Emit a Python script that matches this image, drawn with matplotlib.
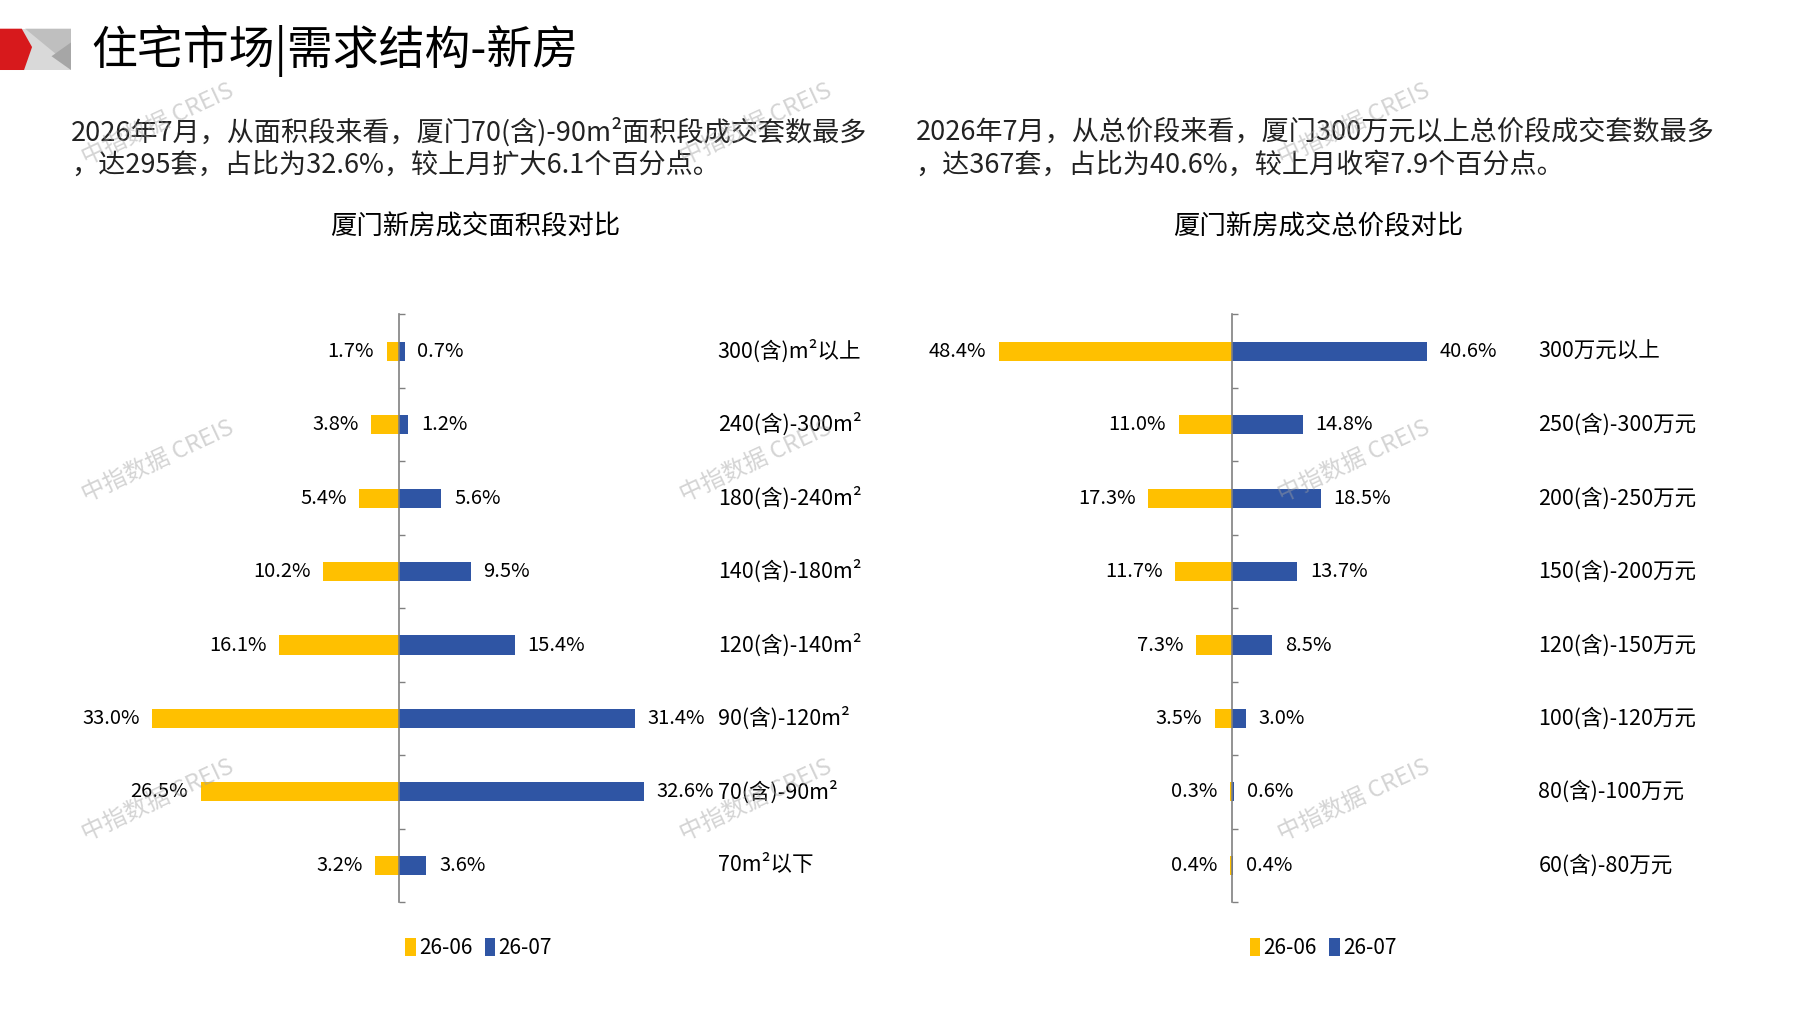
import matplotlib
matplotlib.use('Agg')
import matplotlib.pyplot as plt
from matplotlib.patches import Polygon

plt.rcParams['font.family'] = ['Noto Sans CJK SC', 'DejaVu Sans']

# data (share of transactions, %)
area_cats = ['300(含)m²以上', '240(含)-300m²', '180(含)-240m²', '140(含)-180m²',
             '120(含)-140m²', '90(含)-120m²', '70(含)-90m²', '70m²以下']
area_jun = [1.7, 3.8, 5.4, 10.2, 16.1, 33.0, 26.5, 3.2]
area_jul = [0.7, 1.2, 5.6, 9.5, 15.4, 31.4, 32.6, 3.6]

price_cats = ['300万元以上', '250(含)-300万元', '200(含)-250万元', '150(含)-200万元',
              '120(含)-150万元', '100(含)-120万元', '80(含)-100万元', '60(含)-80万元']
price_jun = [48.4, 11.0, 17.3, 11.7, 7.3, 3.5, 0.3, 0.4]
price_jul = [40.6, 14.8, 18.5, 13.7, 8.5, 3.0, 0.6, 0.4]

legend_labels = ['26-06', '26-07']

YELLOW = '#FFC000'
BLUE = '#2F55A4'
AXIS = '#808080'

# layout measured on a scaled view of the page
W, H = 1570, 880
def fx(x): return x / W
def fy(y): return 1 - y / H

fig = plt.figure(figsize=(17.97, 10.10), dpi=100)

# logo block
logo = [
    ([(0, 25), (62, 25), (62, 61), (0, 61)], '#d9d9d9'),
    ([(22, 25), (62, 25), (62, 38), (50, 48)], '#bfbfbf'),
    ([(62, 37), (45, 49), (62, 61)], '#a6a6a6'),
    ([(0, 25), (19, 25), (28, 41), (21, 61), (0, 61)], '#d7191c'),
]
for pts, c in logo:
    fig.patches.append(Polygon([(fx(x), fy(y)) for x, y in pts], closed=True,
                               transform=fig.transFigure, color=c, lw=0))

fig.text(fx(80), fy(44), '住宅市场|需求结构-新房', fontsize=33, va='center', ha='left')

fig.text(fx(62), fy(115), '2026年7月，从面积段来看，厦门70(含)-90m²面积段成交套数最多',
         fontsize=19.5, va='center', color='#222222')
fig.text(fx(62), fy(144), '，达295套，占比为32.6%，较上月扩大6.1个百分点。',
         fontsize=19.5, va='center', color='#222222')
fig.text(fx(800), fy(115), '2026年7月，从总价段来看，厦门300万元以上总价段成交套数最多',
         fontsize=19.5, va='center', color='#222222')
fig.text(fx(800), fy(144), '，达367套，占比为40.6%，较上月收窄7.9个百分点。',
         fontsize=19.5, va='center', color='#222222')

fig.text(fx(415), fy(198), '厦门新房成交面积段对比', fontsize=19, ha='center', va='center')
fig.text(fx(1152), fy(198), '厦门新房成交总价段对比', fontsize=19, ha='center', va='center')


def pyramid(ax, cats, june, july, lim, label_x, leg_x):
    n = len(cats)
    pos = list(range(n))
    ax.barh(pos, [-v for v in june], height=0.26, color=YELLOW, label=legend_labels[0])
    ax.barh(pos, july, height=0.26, color=BLUE, label=legend_labels[1])
    for i in pos:
        ax.annotate('{:.1f}%'.format(june[i]), (-june[i], i), xytext=(-9, 0),
                    textcoords='offset points', ha='right', va='center', fontsize=14.5)
        ax.annotate('{:.1f}%'.format(july[i]), (july[i], i), xytext=(9, 0),
                    textcoords='offset points', ha='left', va='center', fontsize=14.5)
        ax.text(label_x, i, cats[i], transform=ax.get_yaxis_transform(),
                ha='left', va='center', fontsize=15.5)
    ax.set_xlim(-lim, lim)
    ax.set_ylim(n - 0.5, -0.5)
    ax.set_yticks([i - 0.5 for i in range(n + 1)])
    ax.set_xticks([])
    ax.tick_params(axis='y', direction='in', length=4, width=1, color=AXIS, labelleft=False)
    for s in ['top', 'right', 'bottom']:
        ax.spines[s].set_visible(False)
    ax.spines['left'].set_position(('data', 0))
    ax.spines['left'].set_color(AXIS)
    ax.spines['left'].set_linewidth(1.2)
    ax.legend(loc='center', bbox_to_anchor=(fx(leg_x), fy(826)), bbox_transform=fig.transFigure,
              ncol=2, frameon=False, handlelength=0.5, handleheight=1.0, handletextpad=0.15,
              columnspacing=0.6, fontsize=15)


# left chart: zero line at x=349, 6.55 px per %
ax1 = fig.add_axes([fx(87), fy(786), 524 / W, 512 / H])
pyramid(ax1, area_cats, area_jun, area_jul, 40, (627 - 87) / 524, 418)

# right chart: zero line at x=1076, 4.2 px per %
ax2 = fig.add_axes([fx(824), fy(786), 504 / W, 512 / H])
pyramid(ax2, price_cats, price_jun, price_jul, 60, (1344 - 824) / 504, 1156)

# watermarks
for cx in [138, 660, 1183]:
    for cy in [108, 402, 697]:
        fig.text(fx(cx), fy(cy), '中指数据 CREIS', rotation=25, ha='center', va='center',
                 fontsize=17, color='#a0a0a0', alpha=0.45, zorder=10)

fig.savefig('out.png', dpi=100)
